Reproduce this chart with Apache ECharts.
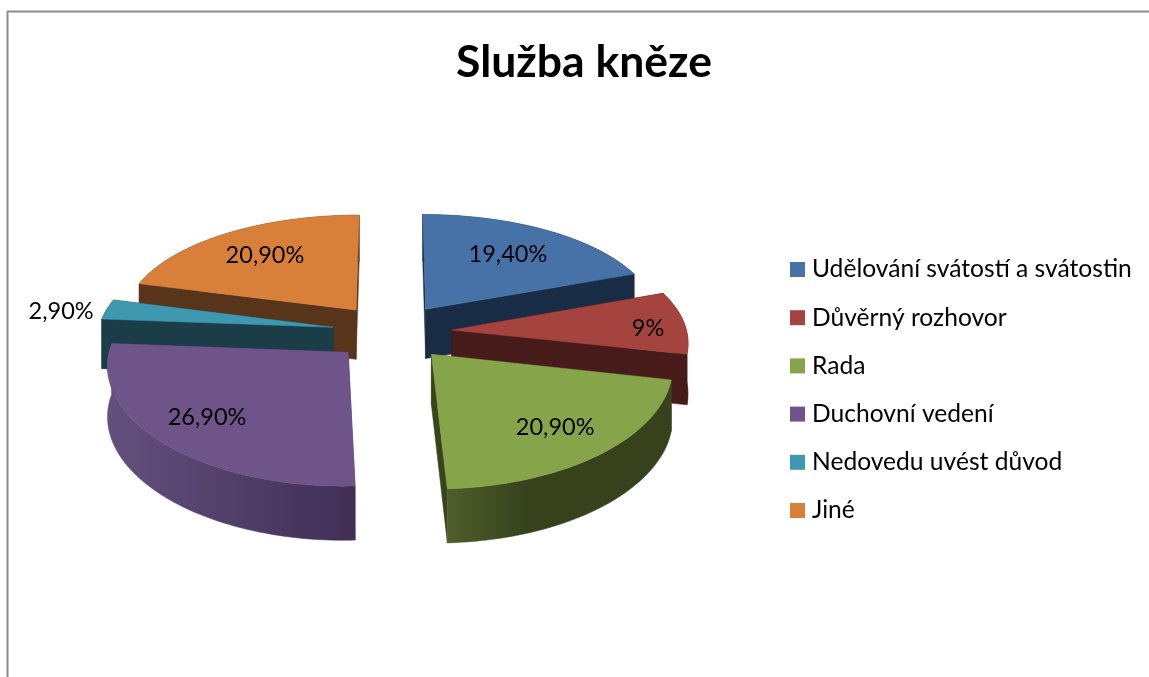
<!DOCTYPE html>
<html><head><meta charset="utf-8">
<style>html,body{margin:0;padding:0;background:#fff}#c{width:1149px;height:677px}</style>
<script src="https://cdn.jsdelivr.net/npm/echarts@6/dist/echarts.min.js"></script>
</head><body><div id="c"></div>
<script>
const categories = ["Udělování svátostí a svátostin","Důvěrný rozhovor","Rada","Duchovní vedení","Nedovedu uvést důvod","Jiné"];
const values = [19.4, 9, 20.9, 26.9, 2.9, 20.9];
const valueLabels = ["19,40%","9%","20,90%","26,90%","2,90%","20,90%"];
const topColors = ["#4672a8","#a5433f","#86a44a","#6f5489","#3e98b0","#d8803a"];
const cutColors = ["#182c45","#461b19","#39441c","#42305a","#1b3d48","#57341a"];
const wallFrom = ["#182c45","#461b19","#4f5e2b","#63507e","#1b3d48","#57341a"];
const wallTo = ["#182c45","#461b19","#37421c","#402e55","#1b3d48","#57341a"];
const layers = [1,2,3,3,2,1];
const labelRadius = [0.675,0.839,0.747,0.756,1.192,0.696];
const labelShiftDeg = [-0.3,2.7,0.3,0.9,-2.3,0.1];

const total = values.reduce((a,b)=>a+b,0);
const CX=392, CY=332, R=235, RY=111.7, KX=0.096, KY=0.1245, DEPTH=50, EXPLODE=0.2553;
function proj(u,v,z){
  const px=1/(1+KX*v), py=1/(1+KY*v);
  return [CX+R*u*px, CY-RY*v*py+z*DEPTH*Math.sqrt(py)];
}
function pol(a,r,ox,oy){return [ox+r*Math.sin(a), oy+r*Math.cos(a)];}

function makeRender(i){
  return function(params,api){
    const val=api.value(0);
    const before=values.slice(0,i).reduce((a,b)=>a+b,0);
    const a0=before/total*2*Math.PI, a1=(before+val)/total*2*Math.PI, mid=(a0+a1)/2;
    const ox=EXPLODE*Math.sin(mid), oy=EXPLODE*Math.cos(mid);
    const n=Math.max(6,Math.round((a1-a0)*40));
    const arc=[];
    for(let k=0;k<=n;k++){arc.push(pol(a0+(a1-a0)*k/n,1,ox,oy));}
    const P=(q,z)=>proj(q[0],q[1],z);
    const apex=[ox,oy];
    const faces=[];
    const wall=(pts,fill,mv)=>faces.push({mv,el:{type:'polygon',shape:{points:pts},style:{fill,stroke:fill,lineWidth:0.5},z2:0}});
    const cut=q=>[P(apex,0),P(q,0),P(q,1),P(apex,1)];
    wall(cut(arc[0]),cutColors[i],(apex[1]+arc[0][1])/2);
    wall(cut(arc[n]),cutColors[i],(apex[1]+arc[n][1])/2);
    const arcTop=arc.map(q=>P(q,0)), arcBot=arc.map(q=>P(q,1)).reverse();
    const mv=arc.reduce((s,q)=>s+q[1],0)/arc.length;
    wall(arcTop.concat(arcBot),{type:'linear',x:0,y:0,x2:1,y2:0,colorStops:[{offset:0,color:wallFrom[i]},{offset:i===2?0.35:1,color:wallTo[i]},{offset:1,color:wallTo[i]}]},mv);
    faces.sort((a,b)=>b.mv-a.mv);
    const children=faces.map((f,j)=>{f.el.z2=j;return f.el;});
    children.push({type:'polygon',z2:20,shape:{points:[P(apex,0)].concat(arcTop)},style:{fill:topColors[i],stroke:topColors[i],lineWidth:0.5}});
    const la=mid+labelShiftDeg[i]*Math.PI/180;
    const lp=proj(ox+labelRadius[i]*Math.sin(la),oy+labelRadius[i]*Math.cos(la),0);
    children.push({type:'text',z2:30,x:lp[0],y:lp[1],style:{text:valueLabels[i],fill:'#000',font:'23.5px Lato',align:'center',verticalAlign:'middle'}});
    return {type:'group',children};
  };
}

const chart=echarts.init(document.getElementById('c'),null,{renderer:'canvas'});
chart.setOption({
  animation:false,
  backgroundColor:'#fff',
  title:{text:'Služba kněze',left:579,top:58,textAlign:'center',textVerticalAlign:'middle',
    textStyle:{fontFamily:'Lato',fontWeight:'bold',fontSize:44.5,color:'#000'}},
  legend:{orient:'vertical',left:785,top:252,itemWidth:15,itemHeight:15,itemGap:23.2,icon:'rect',
    selectedMode:false,data:categories,
    textStyle:{fontFamily:'Lato',fontSize:24.6,color:'#000',lineHeight:22,padding:[0,0,0,2]}},
  graphic:[
    {type:'line',silent:true,shape:{x1:7,y1:11.5,x2:1149,y2:11.5},style:{stroke:'#8c8c8c',lineWidth:2}},
    {type:'line',silent:true,shape:{x1:7.5,y1:11,x2:7.5,y2:677},style:{stroke:'#8c8c8c',lineWidth:2}}
  ],
  series:categories.map((name,i)=>({
    type:'custom',name,coordinateSystem:'none',z:layers[i],silent:true,
    itemStyle:{color:topColors[i]},
    renderItem:makeRender(i),
    data:[[values[i]]]
  }))
});
</script></body></html>
